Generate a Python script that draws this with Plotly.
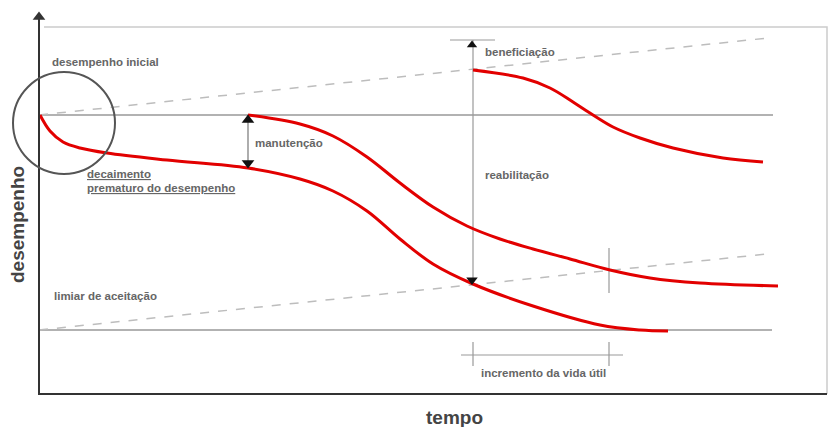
import plotly.graph_objects as go

# ---- data (time t, performance P) ----
decay_t = [1, 11, 24, 41, 68, 128, 209, 261, 294, 328, 361, 394, 434, 494, 561, 601, 629]
decay_p = [279, 263, 252, 246, 241, 234, 226, 215, 203, 183, 155, 130, 110, 88, 69, 64, 63]

maint_t = [209, 261, 294, 328, 361, 394, 428, 461, 494, 531, 571, 611, 661, 739]
maint_p = [279, 270, 258, 237, 211, 187, 168, 155, 145, 135, 124, 116, 111, 108]

benef_t = [434, 484, 511, 534, 554, 574, 601, 634, 684, 724]
benef_p = [324, 316, 306, 292, 279, 267, 256, 246, 236, 232]

initial_level = 279
threshold_level = 64
level_end_t = [734, 733]
upper_trend_t = [0, 729]
upper_trend_p = [279, 356]
lower_trend_t = [0, 728]
lower_trend_p = [64, 140]
frame_top = 367
frame_right = 788
t_max = 792
p_max = 378

maint_arrow_t = 209
maint_arrow_p = [279, 226]
rehab_t = 434
rehab_p = [354, 109]
rehab_cap_t = [411, 456]
life_end_t = 570
life_tick_p = [146, 101]
life_bar_p = 39
life_bar_t = [422, 584]
life_ticks_p = [52, 28]

circle_center = (25, 271)
circle_radius = 51

RED = "rgb(226,0,0)"
GRAY = "#999999"
LIGHT = "#cccccc"
DASH = "#bdbdbd"
DARK = "#333333"
TXT = "#666666"

fig = go.Figure()

def line(x, y, color, width, dash=None):
    fig.add_trace(go.Scatter(x=x, y=y, mode="lines", hoverinfo="skip", showlegend=False,
                             line=dict(color=color, width=width, dash=dash)))

def tri(x, y, symbol, size=10, color=DARK):
    fig.add_trace(go.Scatter(x=[x], y=[y], mode="markers", hoverinfo="skip", showlegend=False,
                             marker=dict(symbol=symbol, size=size, color=color, line=dict(width=0))))

# frame
line([5, frame_right, frame_right], [frame_top, frame_top, 0], LIGHT, 1.5)
# reference levels
line([0, level_end_t[0]], [initial_level, initial_level], GRAY, 1.5)
line([0, level_end_t[1]], [threshold_level, threshold_level], GRAY, 1.5)
# dashed trends
line(upper_trend_t, upper_trend_p, DASH, 1.5, "dash")
line(lower_trend_t, lower_trend_p, DASH, 1.5, "dash")
# rehab vertical + cap
line([rehab_t, rehab_t], rehab_p, GRAY, 1.2)
line(rehab_cap_t, [rehab_p[0], rehab_p[0]], GRAY, 1.2)
# life increment
line([life_end_t, life_end_t], life_tick_p, GRAY, 1.2)
line(life_bar_t, [life_bar_p, life_bar_p], GRAY, 1.2)
line([rehab_t, rehab_t], life_ticks_p, GRAY, 1.2)
line([life_end_t, life_end_t], life_ticks_p, GRAY, 1.2)
# maintenance arrow
line([maint_arrow_t, maint_arrow_t], maint_arrow_p, "#777777", 1.2)

# red curves
for tx, py in [(decay_t, decay_p), (maint_t, maint_p), (benef_t, benef_p)]:
    fig.add_trace(go.Scatter(x=tx, y=py, mode="lines", hoverinfo="skip", showlegend=False,
                             line=dict(color=RED, width=3, shape="spline", smoothing=1.0)))

# axes
line([0, 0, t_max - 4], [p_max, 0, 0], DARK, 2)
tri(0, p_max - 1, "triangle-up", 11)
tri(t_max, 0, "triangle-right", 11)

# arrowheads
tri(maint_arrow_t, 274, "triangle-up", 11, "#111111")
tri(maint_arrow_t, 231, "triangle-down", 11, "#111111")
tri(rehab_t - 1, 349, "triangle-up", 9, "#111111")
tri(rehab_t - 1, 114, "triangle-down", 10, "#111111")

# circle
cx, cy = circle_center
fig.add_shape(type="circle", xref="x", yref="y",
              x0=cx - circle_radius, x1=cx + circle_radius,
              y0=cy - circle_radius, y1=cy + circle_radius,
              line=dict(color="#555555", width=2))

FONT = "Liberation Sans, Arial, sans-serif"

def label(x, y, text, size=11.5, color=TXT, **kw):
    fig.add_annotation(x=x, y=y, text=text, showarrow=False, xanchor="left", yanchor="middle",
                       font=dict(family=FONT, size=size, color=color), **kw)

label(11, 332, "<b>desempenho inicial</b>")
label(46, 220, "<b><u>decaimento</u></b>")
label(46, 206, "<b><u>prematuro do desempenho</u></b>")
label(214, 251, "<b>manutenção</b>")
label(444, 342, "<b>beneficiação</b>")
label(444, 219, "<b>reabilitação</b>")
label(13, 98, "<b>limiar de aceitação</b>")
label(440, 21, "<b>incremento da vida útil</b>")
fig.add_annotation(x=415, y=-23, text="<b>tempo</b>", showarrow=False, xanchor="center", yanchor="middle",
                   font=dict(family=FONT, size=19, color="#444444"))
fig.add_annotation(x=-22, y=169, text="<b>desempenho</b>", showarrow=False, textangle=-90,
                   xanchor="center", yanchor="middle",
                   font=dict(family=FONT, size=19, color="#444444"))

# page body has an 8px margin; ranges are offset so the drawing lands where the reference has it
fig.update_layout(
    width=836, height=427,
    margin=dict(l=0, r=0, t=0, b=0),
    paper_bgcolor="white", plot_bgcolor="white",
    xaxis=dict(range=[-31, 805], visible=False, fixedrange=True),
    yaxis=dict(range=[-41, 386], visible=False, fixedrange=True),
    showlegend=False,
)

fig.write_html("out.html")
